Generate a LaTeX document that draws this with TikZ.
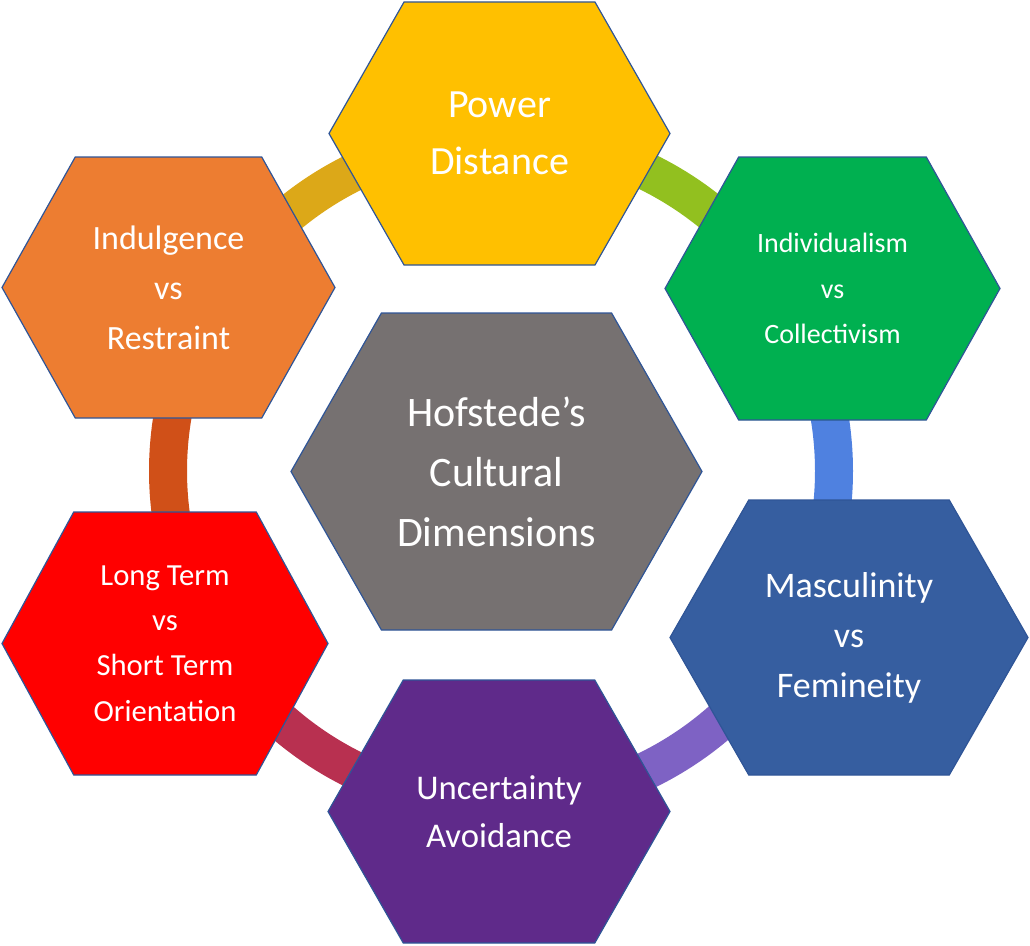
\documentclass[tikz,border=0pt]{standalone}
\usepackage{fontspec}
\setmainfont{Carlito}
\definecolor{cPD}{HTML}{FFC000}
\definecolor{cIC}{HTML}{00B050}
\definecolor{cMF}{HTML}{365EA0}
\definecolor{cUA}{HTML}{5F2A8A}
\definecolor{cLT}{HTML}{FF0000}
\definecolor{cIR}{HTML}{ED7D31}
\definecolor{cHC}{HTML}{767171}
\definecolor{eline}{HTML}{2F5597}
\definecolor{r1}{HTML}{92C01F}
\definecolor{r2}{HTML}{4F81E0}
\definecolor{r3}{HTML}{7E62C4}
\definecolor{r4}{HTML}{B83050}
\definecolor{r5}{HTML}{D05018}
\definecolor{r6}{HTML}{DCA818}
\tikzset{ringseg/.style={line width=28.5pt},
 hexbox/.style={draw=eline,line width=0.9pt},
 hextext/.style={text=white,align=center}}
\newcommand{\hexa}[8]{%
 \fill[#6] ({#2-#4/2},#3) -- ({#2-#4/2+0.22*#4},{#3-#5/2}) -- ({#2+#4/2-0.22*#4},{#3-#5/2}) -- ({#2+#4/2},#3) -- ({#2+#4/2-0.22*#4},{#3+#5/2}) -- ({#2-#4/2+0.22*#4},{#3+#5/2}) -- cycle;
 \draw[hexbox] ({#2-#4/2},#3) -- ({#2-#4/2+0.22*#4},{#3-#5/2}) -- ({#2+#4/2-0.22*#4},{#3-#5/2}) -- ({#2+#4/2},#3) -- ({#2+#4/2-0.22*#4},{#3+#5/2}) -- ({#2-#4/2+0.22*#4},{#3+#5/2}) -- cycle;
 \node[hextext,font=#8] (#1) at (#2,#3) {#7};}
\begin{document}
\begin{tikzpicture}[x=0.75pt,y=-0.75pt]
\useasboundingbox (0,0) rectangle (1030,945);
\coordinate (ringc) at (501,471);
\draw[ringseg,r1] (ringc) ++(-90:333) arc[start angle=-90,end angle=-30,radius=333];
\draw[ringseg,r2] (ringc) ++(-30:333) arc[start angle=-30,end angle=30,radius=333];
\draw[ringseg,r3] (ringc) ++(30:333) arc[start angle=30,end angle=90,radius=333];
\draw[ringseg,r4] (ringc) ++(90:333) arc[start angle=90,end angle=150,radius=333];
\draw[ringseg,r5] (ringc) ++(150:333) arc[start angle=150,end angle=210,radius=333];
\draw[ringseg,r6] (ringc) ++(210:333) arc[start angle=210,end angle=270,radius=333];
\hexa{pd}{499.5}{133.5}{341}{263}{cPD}{Power\\Distance}{\fontsize{30}{43}\selectfont}
\hexa{ic}{832.5}{288.5}{335}{263}{cIC}{Individualism\\vs\\Collectivism}{\fontsize{21}{34}\selectfont}
\hexa{mf}{849}{637.5}{358}{275}{cMF}{Masculinity\\vs\\Femineity}{\fontsize{27}{37.5}\selectfont}
\hexa{ua}{499}{811.5}{342}{263}{cUA}{Uncertainty\\Avoidance}{\fontsize{26}{36}\selectfont}
\hexa{lt}{165}{643.5}{326}{263}{cLT}{Long Term\\vs\\Short Term\\Orientation}{\fontsize{23}{34}\selectfont}
\hexa{ir}{168.5}{287.5}{333}{261}{cIR}{Indulgence\\vs\\Restraint}{\fontsize{25.5}{37.5}\selectfont}
\hexa{hc}{496.5}{471.5}{411}{317}{cHC}{Hofstede’s\\Cultural\\Dimensions}{\fontsize{31.5}{45}\selectfont}
\end{tikzpicture}
\end{document}
